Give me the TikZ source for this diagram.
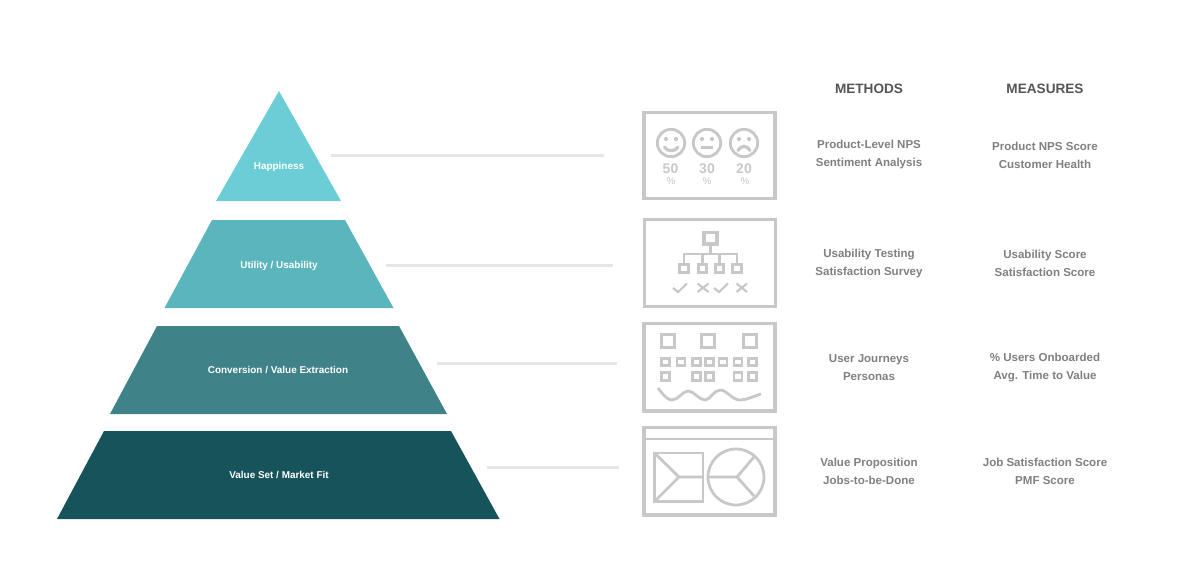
\documentclass[tikz,border=0pt]{standalone}
\usepackage{fontspec}
\setmainfont{Liberation Sans}[BoldFont={Liberation Sans Bold}]
\definecolor{tierA}{HTML}{6BCDD5}
\definecolor{tierB}{HTML}{5BB5BD}
\definecolor{tierC}{HTML}{3F8388}
\definecolor{tierD}{HTML}{16535A}
\definecolor{leader}{HTML}{E6E6E6}
\definecolor{icon}{HTML}{C8C8C8}
\definecolor{txt}{HTML}{808080}
\definecolor{head}{HTML}{555555}
\tikzset{
 x=0.75pt,y=-0.75pt,
 tierlabel/.style={text=white,font=\fontsize{7.45pt}{9pt}\selectfont\bfseries,inner sep=0pt,anchor=center},
 leaderline/.style={draw=leader,line width=2.6pt},
 framebox/.style={draw=icon,line width=2.6pt},
 iconline/.style={draw=icon,line width=2.1pt},
 bigsq/.style={draw=icon,line width=2.4pt},
 smallsq/.style={draw=icon,line width=2.1pt},
 iconthin/.style={draw=icon,line width=1.6pt},
 colhead/.style={text=head,font=\fontsize{10.2pt}{12pt}\selectfont\bfseries,inner sep=0pt,anchor=center},
 cell/.style={text=txt,font=\fontsize{8.65pt}{13.5pt}\selectfont\bfseries,inner sep=0pt,anchor=center,align=center},
 bignum/.style={text=icon,font=\fontsize{10.5pt}{12pt}\selectfont\bfseries,inner sep=0pt,anchor=center},
 pct/.style={text=icon,font=\fontsize{7.5pt}{8pt}\selectfont,inner sep=0pt,anchor=center},
}
\begin{document}
\begin{tikzpicture}
\useasboundingbox (0,0) rectangle (1200,564);
\fill[white] (0,0) rectangle (1200,564);
% pyramid
\fill[tierA] (279,91) -- (341,201) -- (216,201) -- cycle;
\fill[tierB] (212,220) -- (345,220) -- (393.5,308) -- (164.5,308) -- cycle;
\fill[tierC] (157,326) -- (399,326) -- (447,414) -- (110,414) -- cycle;
\fill[tierD] (104,431) -- (451,431) -- (499.5,519) -- (57,519) -- cycle;
\node[tierlabel] (t1) at (279,166.5) {Happiness};
\node[tierlabel] (t2) at (279,265.5) {Utility / Usability};
\node[tierlabel] (t3) at (278,370) {Conversion / Value Extraction};
\node[tierlabel] (t4) at (279,474.5) {Value Set / Market Fit};
% leaders
\coordinate (la1) at (331,155.5); \coordinate (lb1) at (604,155.5);
\coordinate (la2) at (386,265.5); \coordinate (lb2) at (613,265.5);
\coordinate (la3) at (437,363.5); \coordinate (lb3) at (617,363.5);
\coordinate (la4) at (487,467.5); \coordinate (lb4) at (619,467.5);
\foreach \i in {1,2,3,4} \draw[leaderline] (la\i) -- (lb\i);
% frames
\draw[framebox] (644,112.5) rectangle (775,198.5);
\draw[framebox] (644.5,219.5) rectangle (775.5,306.5);
\draw[framebox] (644,323.5) rectangle (775,411);
\draw[framebox] (644,427.5) rectangle (775,515);
% icon 1: faces
\foreach \c in {671,707,744} {
  \draw[iconline] (\c,143) circle (13.7);
  \fill[icon] (\c-5,139) circle (2.1) (\c+5,139) circle (2.1);
}
\draw[iconline,line width=2.4pt,line cap=round] (664.5,147) .. controls (667,152) and (675,152) .. (678,147);
\draw[iconline,line width=2.4pt] (701,147.5) -- (713,147.5);
\draw[iconline,line width=2.4pt,line cap=round] (738,150.5) .. controls (741,145) and (747,145) .. (750,150.5);
\node[bignum] (n1) at (670.5,168.5) {50};
\node[bignum] (n2) at (707,168.5) {30};
\node[bignum] (n3) at (744,168.5) {20};
\node[pct] (p1) at (671,181) {\%};
\node[pct] (p2) at (707,181) {\%};
\node[pct] (p3) at (745,181) {\%};
% icon 2: org chart
\draw[bigsq] (704,232.5) rectangle (717,244);
\draw[iconthin] (710.5,245) -- (710.5,254) (684,263) -- (684,254) -- (737,254) -- (737,263) (702.5,254) -- (702.5,263) (719.5,254) -- (719.5,263);
\foreach \c in {684,702.5,719.5,737} \draw[smallsq] (\c-4.2,264.5) rectangle (\c+4.2,272.5);
\draw[iconthin] (673,288) -- (678,292) -- (687,283.5);
\draw[iconthin] (714,288) -- (719,292) -- (728,283.5);
\draw[iconthin] (697.5,283.5) -- (708.5,292) (708.5,283.5) -- (697.5,292);
\draw[iconthin] (736.5,283.5) -- (747,292) (747,283.5) -- (736.5,292);
% icon 3: journeys
\foreach \c in {668,708,750} \draw[bigsq] (\c-6.5,334.5) rectangle (\c+6.5,347.5);
\foreach \c in {665.5,681,696.5,709.5,723,738,752.5} \draw[smallsq] (\c-4,358.2) rectangle (\c+4,365.8);
\foreach \c in {665.5,696.5,709.5,738,752.5} \draw[smallsq] (\c-4,372.7) rectangle (\c+4,380.3);
\draw[smallsq] (658,388) .. controls (664,396) and (668,400) .. (672,400) .. controls (678,400) and (683,391) .. (688,391) .. controls (694,391) and (699,400) .. (705,400) .. controls (710,400) and (714,390) .. (720,390) .. controls (727,390) and (732,400) .. (740,400) .. controls (747,400) and (754,396) .. (761,394);
% icon 4: canvas
\draw[smallsq] (644,439) -- (775,439);
\draw[smallsq] (654.5,453) rectangle (703,501.5);
\draw[smallsq] (654.5,453) -- (679,477) -- (654.5,501.5) (679,477) -- (703,477);
\draw[smallsq] (736,477) circle (28);
\draw[smallsq] (708,477) -- (737,477) -- (754,457) (737,477) -- (754,496);
% table
\node[colhead] (hm) at (869,88.5) {METHODS};
\node[colhead] (hs) at (1045,88.5) {MEASURES};
\node[cell] (m1) at (869,155) {Product-Level NPS\\Sentiment Analysis};
\node[cell] (s1) at (1045,155) {Product NPS Score\\Customer Health};
\node[cell] (m2) at (869,263.5) {Usability Testing\\Satisfaction Survey};
\node[cell] (s2) at (1045,263.5) {Usability Score\\Satisfaction Score};
\node[cell] (m3) at (869,367.5) {User Journeys\\Personas};
\node[cell] (s3) at (1045,367.5) {\% Users Onboarded\\Avg. Time to Value};
\node[cell] (m4) at (869,471.5) {Value Proposition\\Jobs-to-be-Done};
\node[cell] (s4) at (1045,471.5) {Job Satisfaction Score\\PMF Score};
\end{tikzpicture}
\end{document}
